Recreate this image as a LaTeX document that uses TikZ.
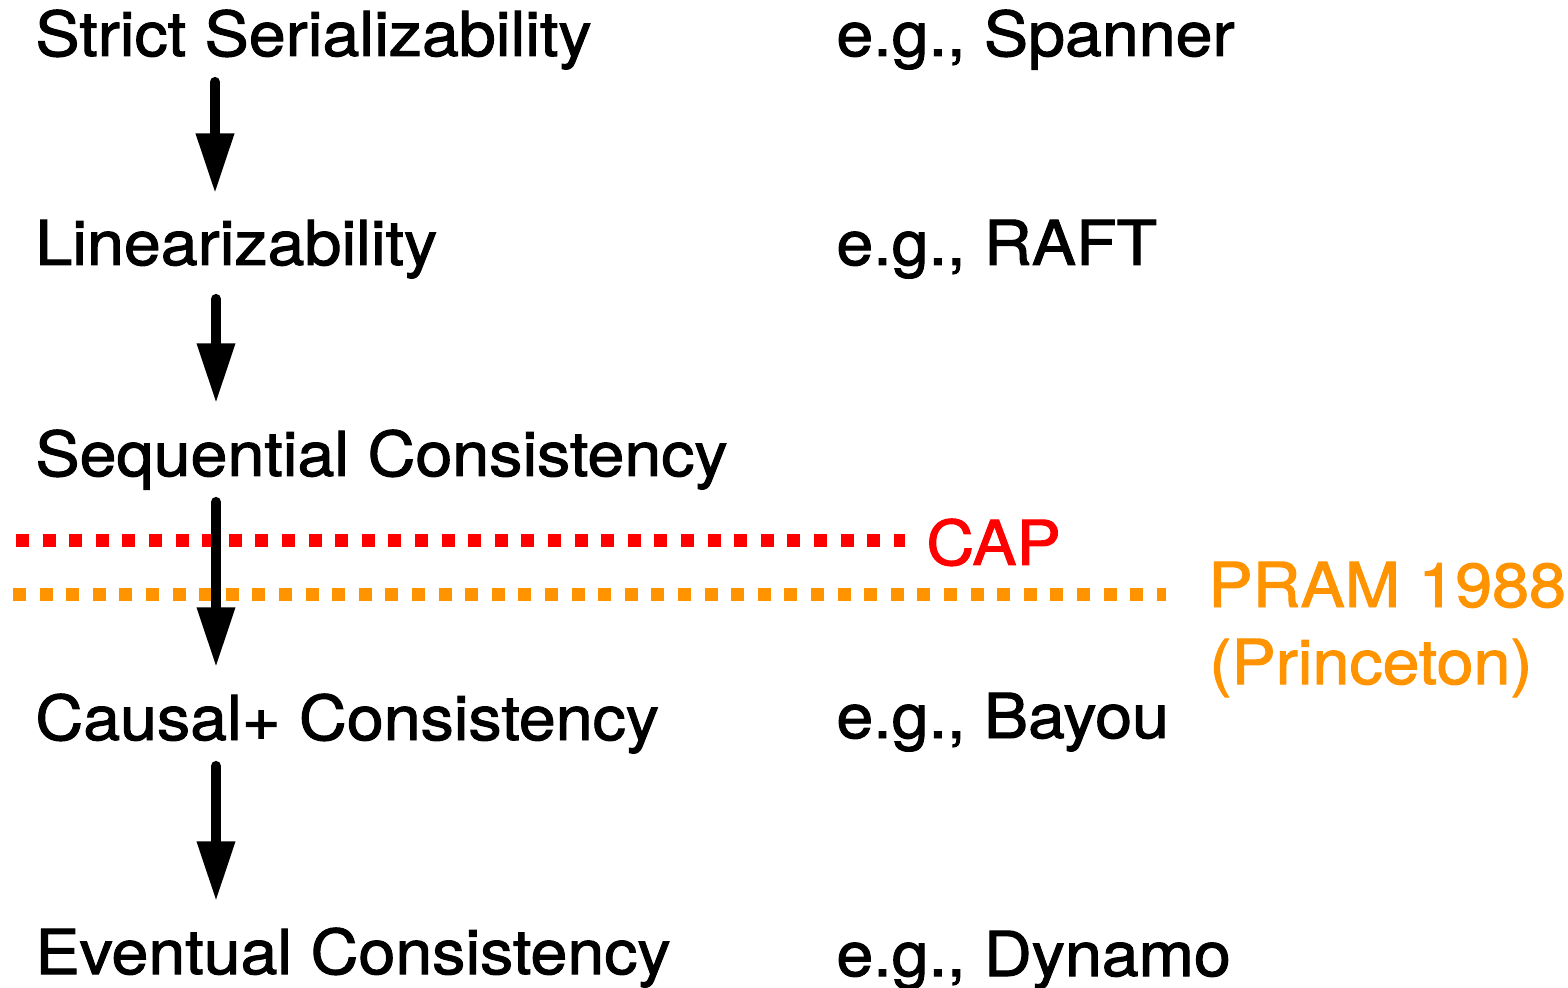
\documentclass[tikz,border=0pt]{standalone}
\usepackage{fontspec}
\setmainfont{TeX Gyre Heros}[FakeStretch=1.07,FakeBold=1.6]
\usetikzlibrary{positioning,arrows.meta,calc}
\definecolor{capred}{RGB}{255,0,0}
\definecolor{pramorange}{RGB}{255,147,0}

\begin{document}
\begin{tikzpicture}[x=0.5pt,y=-0.5pt,
	lbl/.style={anchor=base west,inner sep=0pt,font=\fontsize{31}{37}\selectfont},
	flow/.style={line width=5pt,line cap=round,-{Triangle[width=18pt,length=30pt]}},
	bound/.style={line width=6.5pt,dash pattern=on 6.5pt off 6.8pt}]
	\useasboundingbox (0,0) rectangle (1568,988);

	% consistency models
	\node[lbl] (ss)  at (35,56)  {Strict Serializability};
	\node[lbl] (lin) at (35,265) {Linearizability};
	\node[lbl] (sc)  at (35,476) {Sequential Consistency};
	\node[lbl] (cc)  at (35,740) {Causal+ Consistency};
	\node[lbl] (ec)  at (35,974) {Eventual Consistency};

	% examples
	\node[lbl] (span)  at (836,56)  {e.g., Spanner};
	\node[lbl] (raft)  at (836,265) {e.g., RAFT};
	\node[lbl] (bayou) at (836,738) {e.g., Bayou};
	\node[lbl] (dyn)   at (836,976) {e.g., Dynamo};

	% boundaries
	\coordinate (capl)  at (16,541);
	\coordinate (capr)  at (905,541);
	\coordinate (praml) at (13,594);
	\coordinate (pramr) at (1166,594);
	\draw[bound,capred] (capl) -- (capr);
	\draw[bound,pramorange] (praml) -- (pramr);
	\node[lbl,text=capred] (cap) at (926,565) {CAP};
	\node[lbl,text=pramorange] (pram) at (1208,607) {PRAM 1988};
	\node[lbl,text=pramorange] (prin) at (1209,684) {(Princeton)};

	% implications
	\draw[flow] ($(ss.south west)+(180,12)$) -- ($(lin.north west)+(180,-26)$);
	\draw[flow] ($(lin.south west)+(181,20)$) -- ($(sc.north west)+(181,-26)$);
	\draw[flow] ($(sc.south west)+(181,12)$) -- ($(cc.north west)+(181,-26)$);
	\draw[flow] ($(cc.south west)+(181,12)$) -- ($(ec.north west)+(181,-26)$);
\end{tikzpicture}
\end{document}
